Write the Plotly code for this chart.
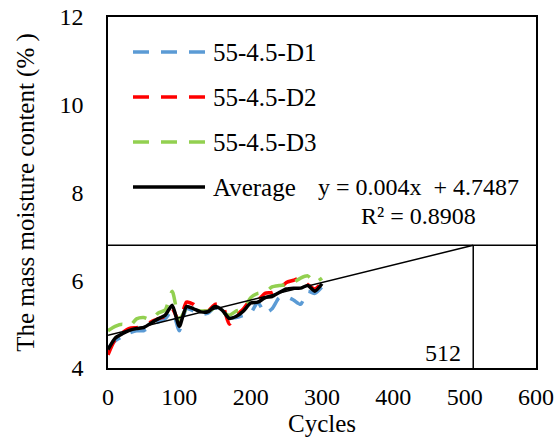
import plotly.graph_objects as go

# ---- data ----
cycles = [0, 10, 20, 30, 40, 50, 60, 70, 80, 90, 100, 110, 120, 130, 140, 150,
          160, 170, 180, 190, 200, 210, 220, 230, 240, 250, 260, 270, 280, 290, 300]
d1 = [4.45, 4.62, 4.72, 4.80, 4.85, 4.85, 4.95, 5.05, 5.12, 5.30, 4.85, 5.35, 5.30, 5.22, 5.25, 5.38,
      5.30, 5.15, 5.15, 5.20, 5.25, 5.50, 5.25, 5.35, 5.60, 5.62, 5.55, 5.45, 5.75, 5.70, 5.85]
d2 = [4.30, 4.65, 4.80, 4.90, 4.92, 4.95, 5.05, 5.12, 5.18, 5.35, 5.05, 5.50, 5.45, 5.30, 5.30, 5.45,
      5.45, 5.00, 5.20, 5.35, 5.55, 5.55, 5.70, 5.72, 5.80, 5.95, 6.00, 6.05, 5.90, 5.80, 5.95]
d3 = [4.85, 4.95, 5.00, 4.95, 5.12, 5.15, 5.10, 5.25, 5.32, 5.75, 5.10, 5.35, 5.32, 5.30, 5.30, 5.35,
      5.28, 5.20, 5.30, 5.35, 5.60, 5.70, 5.72, 5.85, 5.88, 5.90, 5.95, 6.05, 6.10, 5.95, 6.05]
avg = [4.42, 4.68, 4.78, 4.86, 4.90, 4.92, 5.02, 5.12, 5.20, 5.43, 4.95, 5.40, 5.35, 5.28, 5.28, 5.40,
       5.32, 5.13, 5.18, 5.30, 5.48, 5.50, 5.60, 5.63, 5.72, 5.80, 5.82, 5.82, 5.88, 5.75, 5.92]
series_names = ["55-4.5-D1", "55-4.5-D2", "55-4.5-D3", "Average"]
slope = 0.004
intercept = 4.7487
r2 = 0.8908
target_cycle = 512
x_ticks = [0, 100, 200, 300, 400, 500, 600]
y_ticks = [4, 6, 8, 10, 12]

FONT = "Liberation Serif"
colors = ["#5B9BD5", "#FF0000", "#92D050", "#000000"]
dashes = ["16px,12px", "16px,12px", "16px,12px", "solid"]

fig = go.Figure()
for name, ys, c, d in zip(series_names, [d1, d2, d3, avg], colors, dashes):
    fig.add_trace(go.Scatter(x=cycles, y=ys, mode="lines", name=name,
                             line=dict(color=c, width=3.5, dash=d, shape="spline", smoothing=0.6),
                             showlegend=False))

# trend line
trend_x = [0, target_cycle]
trend_y = [intercept + slope * v for v in trend_x]
fig.add_trace(go.Scatter(x=trend_x, y=trend_y, mode="lines",
                         line=dict(color="black", width=1.5), showlegend=False))

y_target = intercept + slope * target_cycle
fig.add_shape(type="line", xref="paper", yref="y", x0=0, x1=1, y0=y_target, y1=y_target,
              line=dict(color="black", width=1.5))
fig.add_shape(type="line", xref="x", yref="y", x0=target_cycle, x1=target_cycle,
              y0=y_ticks[0], y1=y_target, line=dict(color="black", width=1.5))
fig.add_annotation(x=target_cycle, y=y_ticks[0], xref="x", yref="y", text=str(target_cycle),
                   showarrow=False, xanchor="right", yanchor="bottom", xshift=-10, yshift=0,
                   font=dict(family=FONT, size=24, color="black"))

# manual legend (paper coordinates)
W, H = 560, 446
ml, mr, mt, mb = 108, 24, 17, 78
pw, ph = W - ml - mr, H - mt - mb
def px2paper(px, py):
    return (px - ml) / pw, 1 - (py - mt) / ph

rows_py = [52, 97, 142, 187]
for name, c, d, py in zip(series_names, colors, dashes, rows_py):
    x0, y0 = px2paper(133, py)
    x1, _ = px2paper(205, py)
    fig.add_shape(type="line", xref="paper", yref="paper", x0=x0, x1=x1, y0=y0, y1=y0,
                  line=dict(color=c, width=3.5, dash=d))
    tx, ty = px2paper(211, py)
    fig.add_annotation(x=tx, y=ty, xref="paper", yref="paper", text=name, showarrow=False,
                       xanchor="left", yanchor="middle",
                       font=dict(family=FONT, size=25, color="black"))

ex, ey = px2paper(418, 187)
fig.add_annotation(x=ex, y=ey, xref="paper", yref="paper",
                   text=f"y = {slope}x  + {intercept}", showarrow=False,
                   xanchor="center", yanchor="middle", font=dict(family=FONT, size=24, color="black"))
rx, ry = px2paper(418, 216)
fig.add_annotation(x=rx, y=ry, xref="paper", yref="paper",
                   text=f"R² = {r2}", showarrow=False,
                   xanchor="center", yanchor="middle", font=dict(family=FONT, size=24, color="black"))

fig.update_layout(
    width=W, height=H, margin=dict(l=ml, r=mr, t=mt, b=mb, autoexpand=False),
    paper_bgcolor="white", plot_bgcolor="white",
    font=dict(family=FONT, size=24, color="black"),
    showlegend=False,
    xaxis=dict(range=[0, 600], tickvals=x_ticks, showgrid=False, zeroline=False,
               showline=True, mirror=True, linecolor="black", linewidth=1.5,
               ticks="", ticklabelstandoff=6, automargin=False,
               tickfont=dict(family=FONT, size=24),
               title=dict(text="Cycles", font=dict(family=FONT, size=25), standoff=0)),
    yaxis=dict(range=[4, 12], tickvals=y_ticks, showgrid=False, zeroline=False,
               showline=True, mirror=True, linecolor="black", linewidth=1.5,
               ticks="", ticklabelstandoff=18, automargin=False,
               tickfont=dict(family=FONT, size=24),
               title=dict(text="The mass moisture content (% )", font=dict(family=FONT, size=25), standoff=18)),
)

fig.write_html("out.html")
